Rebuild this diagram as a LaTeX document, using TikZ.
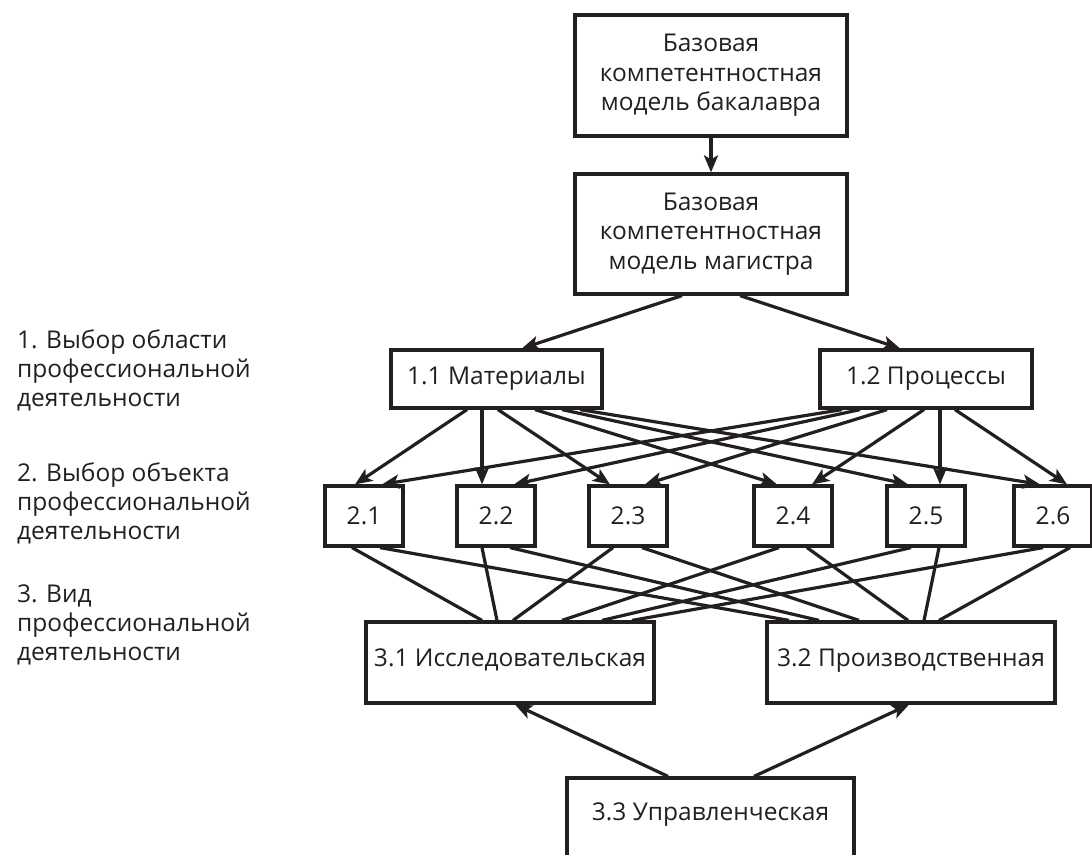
\documentclass[tikz,border=0pt]{standalone}
\usepackage{fontspec}
\setmainfont{Open Sans}
\usetikzlibrary{arrows.meta}
\definecolor{ink}{HTML}{231F20}
\begin{document}
\begin{tikzpicture}[x=1pt,y=-1pt,
  box/.style={draw=ink, line width=3.2pt, inner sep=0pt, align=center, text=ink,
    font=\fontsize{24.5}{29.5}\selectfont},
  arr/.style={draw=ink, line width=3.2pt, -{Stealth[length=17pt,width=14pt,inset=4pt]}},
  ln/.style={draw=ink, line width=3.2pt},
  side/.style={anchor=north west, inner sep=0pt, align=left, text=ink,
    font=\fontsize{24.5}{29}\selectfont}]
\useasboundingbox (0,0) rectangle (1092,854);
\begin{scope}
\clip (0,0) rectangle (1092,854);
% side labels
\node[side] (s1) at (17,330) {1. Выбор области\\профессиональной\\деятельности};
\node[side] (s2) at (17,463) {2. Выбор объекта\\профессиональной\\деятельности};
\node[side] (s3) at (17,585) {3. Вид\\профессиональной\\деятельности};
% boxes
\node[box, minimum width=272pt, minimum height=121pt] (bac) at (711,75.5) {Базовая\\компетентностная\\модель бакалавра};
\node[box, minimum width=272pt, minimum height=120pt] (mag) at (711,234) {Базовая\\компетентностная\\модель магистра};
\node[box, minimum width=211pt, minimum height=58pt] (a11) at (496.5,379) {1.1 Материалы};
\node[box, minimum width=212pt, minimum height=58pt] (a12) at (926,379) {1.2 Процессы};
\foreach \n/\x in {1/364,2/496,3/628,4/793,5/926,6/1053}
  \node[box, minimum width=78pt, minimum height=60pt] (b2\n) at (\x,516) {2.\n};
\node[box, minimum width=288pt, minimum height=81pt, text depth=10pt] (c31) at (510,662.5) {3.1 Исследовательская};
\node[box, minimum width=288pt, minimum height=81pt, text depth=10pt] (c32) at (911,662.5) {3.2 Производственная};
\node[box, minimum width=287pt, minimum height=102pt, text depth=34pt] (c33) at (710.5,829) {3.3 Управленческая};
% connectors top
\draw[arr] (bac.south) -- (mag.north);
\draw[arr] ([xshift=-29pt]mag.south) -- ([xshift=25.5pt]a11.north);
\draw[arr] ([xshift=29pt]mag.south) -- ([xshift=-26pt]a12.north);
% 1.1 -> level 2
\draw[arr] ([xshift=-29.5pt]a11.south) -- ([xshift=-9pt]b21.north);
\draw[arr] ([xshift=-14.5pt]a11.south) -- ([xshift=-14pt]b22.north);
\draw[arr] ([xshift=1.5pt]a11.south) -- ([xshift=-18pt]b23.north);
\draw[arr] ([xshift=38.5pt]a11.south) -- ([xshift=-16pt]b24.north);
\draw[arr] ([xshift=65.5pt]a11.south) -- ([xshift=-18pt]b25.north);
\draw[arr] ([xshift=83.5pt]a11.south) -- ([xshift=-13pt]b26.north);
% 1.2 -> level 2
\draw[arr] ([xshift=29pt]a12.south) -- ([xshift=14pt]b26.north);
\draw[arr] ([xshift=14pt]a12.south) -- ([xshift=14pt]b25.north);
\draw[arr] ([xshift=-2pt]a12.south) -- ([xshift=19pt]b24.north);
\draw[arr] ([xshift=-39pt]a12.south) -- ([xshift=17pt]b23.north);
\draw[arr] ([xshift=-66pt]a12.south) -- ([xshift=18pt]b22.north);
\draw[arr] ([xshift=-84pt]a12.south) -- ([xshift=18pt]b21.north);
% level 2 -> level 3
\draw[ln] ([xshift=-12pt]b21.south) -- ([xshift=-28pt]c31.north);
\draw[ln] ([xshift=16pt]b21.south) -- ([xshift=-122pt]c32.north);
\draw[ln] ([xshift=-14pt]b22.south) -- ([xshift=-13pt]c31.north);
\draw[ln] ([xshift=14pt]b22.south) -- ([xshift=-92pt]c32.north);
\draw[ln] ([xshift=-15pt]b23.south) -- ([xshift=3pt]c31.north);
\draw[ln] ([xshift=14pt]b23.south) -- ([xshift=-52pt]c32.north);
\draw[ln] ([xshift=-14pt]b24.south) -- ([xshift=52pt]c31.north);
\draw[ln] ([xshift=14pt]b24.south) -- ([xshift=-3pt]c32.north);
\draw[ln] ([xshift=-15pt]b25.south) -- ([xshift=92pt]c31.north);
\draw[ln] ([xshift=13pt]b25.south) -- ([xshift=13pt]c32.north);
\draw[ln] ([xshift=-10pt]b26.south) -- ([xshift=122pt]c31.north);
\draw[ln] ([xshift=17pt]b26.south) -- ([xshift=28pt]c32.north);
% 3.3 -> 3.1, 3.2
\draw[arr] ([xshift=-42.5pt]c33.north) -- ([xshift=5pt]c31.south);
\draw[arr] ([xshift=43.5pt]c33.north) -- ([xshift=-2pt]c32.south);
\end{scope}
\end{tikzpicture}
\end{document}
